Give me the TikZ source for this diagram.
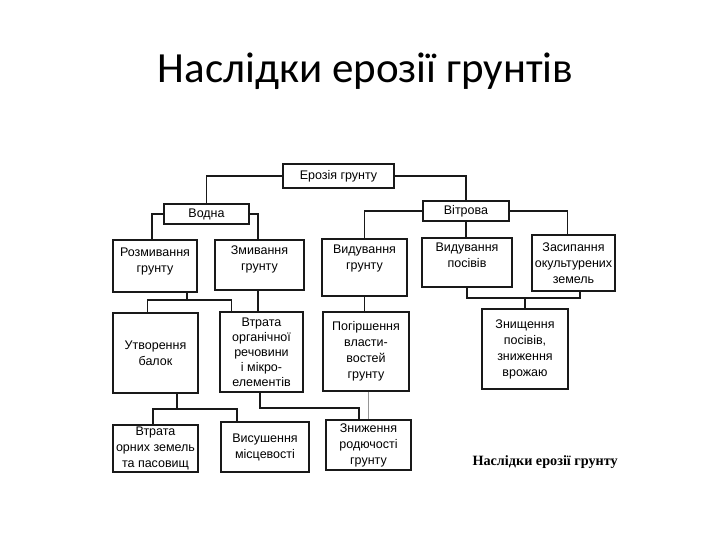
\documentclass[tikz,border=0pt]{standalone}
\usepackage{fontspec}
\setmainfont{Liberation Sans}
\newfontfamily\titlefont{Carlito}
\newfontfamily\capfont{Liberation Serif}
\usetikzlibrary{calc}
\definecolor{inkgray}{RGB}{25,25,25}
\definecolor{faintgray}{RGB}{150,150,150}
\tikzset{
  blk/.style={draw=inkgray, line width=1.5pt, fill=white, align=center, inner sep=1pt,
    font=\fontsize{12.5}{16}\selectfont},
  lifttxt/.style={text depth=#1},
  lnk/.style={draw=inkgray, line width=1.5pt},
}

\begin{document}
\begin{tikzpicture}[x=1pt, y=-1pt, line join=miter]
\useasboundingbox (0,0) rectangle (720,540);

% ============ TITLE ============
\node[anchor=base, font=\titlefont\fontsize{43}{48}\selectfont] (title) at (365.5,83) {Наслідки ерозії грунтів};

% ============ LEVEL 1-2 ============
\node[blk, minimum width=111, minimum height=24] (eroz) at (338.5,176) {Ерозія грунту};
\node[blk, minimum width=85, minimum height=20] (vodna) at (206.5,214) {Водна};
\node[blk, minimum width=86, minimum height=20] (vitr) at (466,211) {Вітрова};

% ============ LEVEL 3 ============
\node[blk, lifttxt=11pt, minimum width=84, minimum height=52] (rozmyv) at (155,266) {Розмивання\\грунту};
\node[blk, lifttxt=13pt, minimum width=89, minimum height=50] (zmyv) at (259.5,265) {Змивання\\грунту};
\node[blk, lifttxt=20pt, minimum width=85, minimum height=57] (vydgr) at (364.5,267.5) {Видування\\грунту};
\node[blk, lifttxt=14pt, minimum width=90, minimum height=49] (vydpos) at (467,262.5) {Видування\\посівів};
\node[blk, minimum width=83, minimum height=56] (zasyp) at (573.5,263) {Засипання\\окультурених\\земель};

% ============ LEVEL 4 ============
\node[blk, minimum width=85, minimum height=80] (utvor) at (155.5,353) {Утворення\\балок};
\node[blk, font=\fontsize{12.5}{15}\selectfont, minimum width=83, minimum height=80] (vtrorg) at (261.5,352) {Втрата\\органічної\\речовини\\і мікро-\\елементів};
\node[blk, minimum width=86, minimum height=79] (pogir) at (366,351.5) {Погіршення\\власти-\\востей\\грунту};
\node[blk, minimum width=86, minimum height=80] (znysh) at (525,349) {Знищення\\посівів,\\зниження\\врожаю};

% ============ LEVEL 5 ============
\node[blk, minimum width=85, minimum height=47] (vtrorn) at (155.5,448.5) {Втрата\\орних земель\\та пасовищ};
\node[blk, minimum width=88, minimum height=50] (vysush) at (265,447) {Висушення\\місцевості};
\node[blk, minimum width=85, minimum height=50] (znyzh) at (368.5,445) {Зниження\\родючості\\грунту};

% caption under the scheme
\node[anchor=west, font=\capfont\bfseries\fontsize{14.2}{16}\selectfont] (capt) at (469,462) {Наслідки ерозії грунту};

% ============ CONNECTORS ============
\draw[lnk] (eroz.west) -| (vodna.north);
\draw[lnk] (eroz.east) -| (vitr.north);
\draw[lnk] (vodna.west) -| ([xshift=-3pt]rozmyv.north);
\draw[lnk] (vodna.east) -| ([xshift=-1.5pt]zmyv.north);
\draw[lnk] (vitr.west) -| (vydgr.north);
\draw[lnk] (vitr.south) -- (vitr.south |- vydpos.north);
\draw[lnk] (vitr.east) -| ([xshift=-6pt]zasyp.north);

% Rozmyvannia -> two boxes below
\coordinate (jA) at (187,300);
\draw[lnk] (rozmyv.south -| jA) -- (jA);
\draw[lnk] ([xshift=-8pt]utvor.north) |- (jA) -| ([xshift=-30pt]vtrorg.north);
\draw[lnk] ([xshift=-1.5pt]zmyv.south) -- ([xshift=-1.5pt]zmyv.south |- vtrorg.north);
\draw[lnk] (vydgr.south) -- (vydgr.south |- pogir.north);

% wind branch joins into one box
\coordinate (jB) at (525,298);
\draw[lnk] (vydpos.south) |- (jB) -| ([xshift=6.5pt]zasyp.south);
\draw[lnk] (jB) -- (znysh.north);

% Utvorennia balok -> two boxes below
\coordinate (jC) at (177,409);
\draw[lnk] (utvor.south -| jC) -- (jC);
\draw[lnk] ([xshift=-2.5pt]vtrorn.north) |- (jC) -| ([xshift=-28pt]vysush.north);

% organic loss and properties -> fertility
\coordinate (jD) at (359,408);
\draw[lnk] ([xshift=-1.5pt]vtrorg.south) |- (jD) -- (jD |- znyzh.north);
\draw[faintgray, line width=0.8pt] ([xshift=2pt]pogir.south) -- ([xshift=2pt]pogir.south |- znyzh.north);
\end{tikzpicture}
\end{document}
